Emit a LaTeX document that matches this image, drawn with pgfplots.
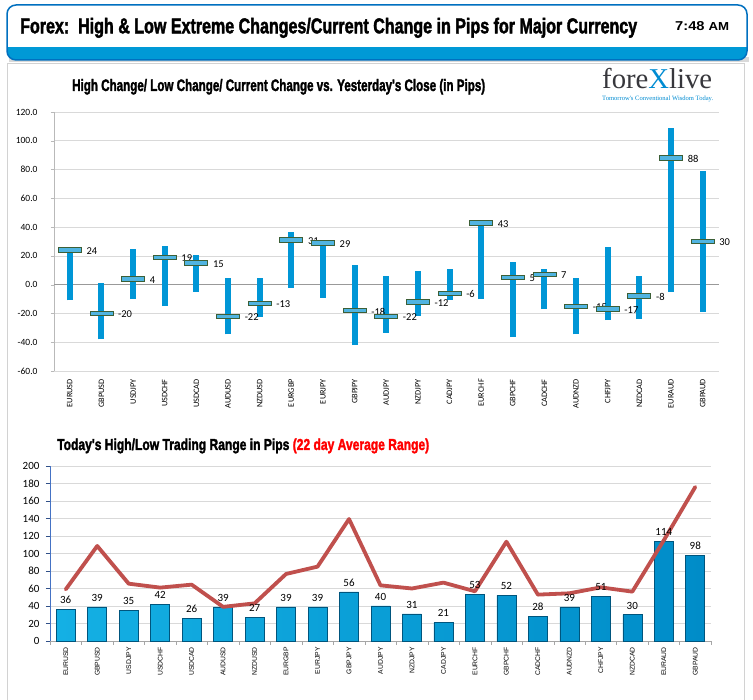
\documentclass[border=0pt]{standalone}
\usepackage{pgfplots}
\pgfplotsset{compat=1.18}
\usepackage{pgfplotstable}
\usepackage{fontspec}
\setmainfont{Carlito}
\newfontfamily\condfont[BoldFeatures={FakeBold=2.2}]{Liberation Sans}
\newfontfamily\arialfont{Liberation Sans}
\newfontfamily\seriffont{Liberation Serif}

\definecolor{hdrblue}{RGB}{0,112,192}
\definecolor{stripeblue}{RGB}{0,153,214}
\definecolor{barblue}{RGB}{0,150,214}
\definecolor{markfill}{RGB}{80,180,225}
\definecolor{markedge}{RGB}{60,95,55}
\definecolor{botbarL}{RGB}{20,176,228}
\definecolor{botbarR}{RGB}{0,140,200}
\definecolor{botbaredge}{RGB}{0,85,125}
\definecolor{linered}{RGB}{192,80,77}
\definecolor{axisblue}{RGB}{68,114,196}
\definecolor{logogray}{RGB}{55,55,60}
\definecolor{logoblue}{RGB}{0,140,210}

\pgfdeclareplotmark{hbar}{%
  \pgfpathrectangle{\pgfqpoint{-11.5pt}{-2.3pt}}{\pgfqpoint{23pt}{4.6pt}}%
  \pgfusepathqfillstroke}

\pgfplotstableread{
x low high cur
0 -11 24 24
1 -38 1 -20
2 -10 25 4
3 -15 27 19
4 -5 20.5 15
5 -34.5 4.5 -22
6 -22.5 4.5 -13
7 -2 36.5 31
8 -9 29 29
9 -42 13.5 -18
10 -33.5 6 -22
11 -21.7 9.4 -12
12 -10.8 10.8 -6
13 -10 43 43
14 -36.5 15.6 5
15 -17 10.8 7
16 -34.5 4.5 -15
17 -24.7 26 -17
18 -24 6 -8
19 -5 108.8 88
20 -19 79 30
}\topdata

\pgfplotstableread{
x range avg
0 36 59
1 39 108.6
2 35 65.5
3 42 61
4 26 64.4
5 39 39
6 27 43
7 39 76.6
8 39 85
9 56 139.4
10 40 63.6
11 31 60
12 21 66.7
13 53 56.8
14 52 113.5
15 28 53
16 39 54.5
17 51 61.3
18 30 56.4
19 114 115
20 98 176
}\botdata

\def\pairs{EURUSD,GBPUSD,USDJPY,USDCHF,USDCAD,AUDUSD,NZDUSD,EURGBP,EURJPY,GBPJPY,AUDJPY,NZDJPY,CADJPY,EURCHF,GBPCHF,CADCHF,AUDNZD,CHFJPY,NZDCAD,EURAUD,GBPAUD}

\begin{document}
\begin{tikzpicture}[x=1pt,y=1pt]
\path[use as bounding box] (0,0) rectangle (753,700);
\fill[white] (0,0) rectangle (753,700);
% panel
\draw[gray!35, line width=0.8pt] (7,0) -- (7,637) -- (744,637) -- (744,0);
% header
\fill[gray!30] (9,638) rectangle (749,643);
\begin{scope}
\path[clip, rounded corners=9pt] (7,640) rectangle (747,695);
\fill[white] (7,640) rectangle (747,695);
\fill[stripeblue] (7,640) rectangle (747,653);
\end{scope}
\draw[hdrblue, line width=1.5pt, rounded corners=9pt] (7,640) rectangle (747,695);
\node[anchor=base west, inner sep=0pt] at (20,666.7)
  {\resizebox{617pt}{15.5pt}{\condfont\bfseries Forex:\ \ High \& Low Extreme Changes/Current Change in Pips for Major Currency}};
\node[anchor=base west, inner sep=0pt] at (675,669)
  {\resizebox{54pt}{9pt}{\arialfont\bfseries 7:48 {\small AM}}};
% logo
\node[anchor=base west, inner sep=0pt] at (602,611)
  {\resizebox{110pt}{!}{\seriffont\color{logogray}fore\textcolor{logoblue}{X}live}};
\node[anchor=base west, inner sep=0pt] at (602,599.5)
  {\resizebox{111pt}{!}{\seriffont\color{logoblue}Tomorrow's Conventional Wisdom Today.}};
% titles
\node[anchor=base west, inner sep=0pt] at (72,609)
  {\resizebox{413pt}{12pt}{\condfont\bfseries High Change/ Low Change/ Current Change vs. Yesterday's Close (in Pips)}};
\node[anchor=base west, inner sep=0pt] at (57,250)
  {\resizebox{372pt}{11.5pt}{\condfont\bfseries Today's High/Low Trading Range in Pips \textcolor{red}{(22 day Average Range)}}};

% ---------- top chart
\begin{axis}[
  at={(54pt,329pt)}, anchor=south west,
  scale only axis, width=664.5pt, height=259pt,
  xmin=-0.5, xmax=20.5, ymin=-60, ymax=120,
  axis lines=left, axis line style={-, draw=gray!55},
  x axis line style={draw=gray!30},
  ytick={-60,-40,...,120},
  ymajorgrids, major grid style={draw=gray!30, line width=0.6pt},
  xtick={0,...,20}, xticklabels/.expand once={\pairs},
  xtick style={draw=none},
  ytick style={draw=gray!55},
  tick align=outside, major tick length=3pt,
  x tick label style={rotate=90, anchor=east, font=\fontsize{8.3}{9}\selectfont, inner sep=1pt},
  y tick label style={font=\fontsize{9.5}{10}\selectfont, xshift=-10pt},
  yticklabel style={/pgf/number format/.cd, fixed, fixed zerofill, precision=1},
  /pgf/number format/assume math mode=true,
  xticklabel shift=4pt,
  clip=false,
]
\addplot[forget plot, draw=gray!80, line width=0.7pt] coordinates {(-0.5,0) (20.5,0)};
\addplot[forget plot, draw=none, mark=none,
  error bars/.cd, y dir=plus, y explicit, error mark=none,
  error bar style={draw=barblue, line width=6pt, solid}]
  table[x=x, y=low, y error plus expr=\thisrow{high}-\thisrow{low}] {\topdata};
\addplot[only marks, mark=hbar, mark options={fill=markfill, draw=markedge, line width=0.8pt},
  nodes near coords, point meta=explicit,
  nodes near coords style={anchor=west, xshift=13pt, yshift=-1pt, text=black, font=\fontsize{10.5}{12}\selectfont,
    /pgf/number format/.cd, int detect}]
  table[x=x, y=cur, meta=cur] {\topdata};
\end{axis}

% ---------- bottom chart
\begin{axis}[
  at={(50pt,59pt)}, anchor=south west,
  scale only axis, width=661pt, height=175pt,
  xmin=-0.5, xmax=20.5, ymin=0, ymax=200,
  axis lines=left, axis line style={-},
  y axis line style={draw=axisblue},
  x axis line style={draw=gray!70},
  ytick={0,20,...,200},
  ymajorgrids, major grid style={draw=gray!30, line width=0.6pt},
  xtick={-0.5,0.5,...,20.5}, xticklabels={},
  extra x ticks={0,...,20}, extra x tick labels/.expand once={\pairs},
  extra x tick style={major tick length=0pt},
  xtick style={draw=gray!70},
  ytick style={draw=axisblue!70!black},
  tick align=outside, major tick length=4pt,
  x tick label style={rotate=90, anchor=east, font=\arialfont\fontsize{6.8}{8}\selectfont, inner sep=1pt},
  xticklabel shift=5pt,
  y tick label style={font=\fontsize{11}{12}\selectfont, xshift=-3pt},
  /pgf/number format/assume math mode=true,
  clip=false,
]
\addplot[ybar, bar width=19pt, left color=botbarL, right color=botbarR, draw=botbaredge, line width=0.6pt,
  nodes near coords, point meta=explicit,
  nodes near coords style={font=\fontsize{11}{12}\selectfont, text=black, yshift=2pt}]
  table[x=x, y=range, meta=range] {\botdata};
\addplot[sharp plot, draw=linered, line width=3.8pt, mark=none, line join=round, line cap=round]
  table[x=x, y=avg] {\botdata};
\end{axis}
\end{tikzpicture}
\end{document}
